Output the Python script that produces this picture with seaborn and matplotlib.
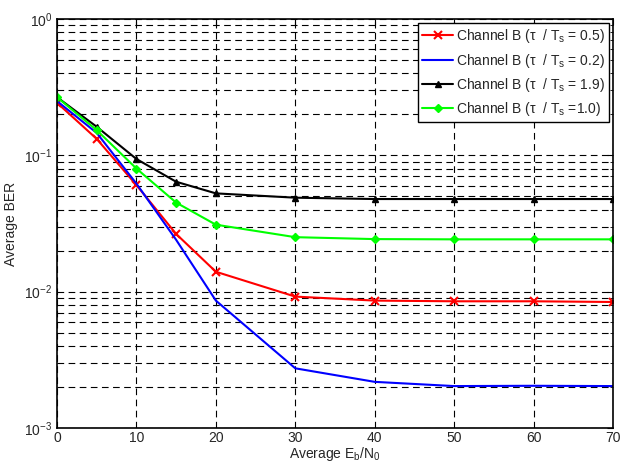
import numpy as np
import pandas as pd
import matplotlib
matplotlib.use("Agg")
import matplotlib.pyplot as plt
import seaborn as sns
from matplotlib.ticker import LogLocator, NullFormatter, MultipleLocator

# dados
snr = [0, 5, 10, 15, 20, 30, 40, 50, 60, 70]
ber_05 = [0.243, 0.132, 0.0605, 0.0265, 0.0140, 0.0092, 0.0086, 0.0085, 0.0085, 0.0084]
ber_02 = [0.250, 0.146, 0.062, 0.024, 0.0086, 0.00274, 0.00218, 0.00203, 0.00204, 0.00203]
ber_19 = [0.267, 0.162, 0.094, 0.064, 0.0526, 0.0489, 0.0478, 0.0478, 0.0478, 0.0478]
ber_10 = [0.267, 0.153, 0.080, 0.045, 0.031, 0.0251, 0.0243, 0.0242, 0.0242, 0.0242]

labels = [
    r"Channel B (τ  / T$_\mathregular{s}$ = 0.5)",
    r"Channel B (τ  / T$_\mathregular{s}$ = 0.2)",
    r"Channel B (τ  / T$_\mathregular{s}$ = 1.9)",
    r"Channel B (τ  / T$_\mathregular{s}$ =1.0)",
]

sns.set_style("white")
plt.rcParams["font.family"] = ["Liberation Sans", "DejaVu Sans"]
plt.rcParams["mathtext.fontset"] = "custom"
plt.rcParams["mathtext.rm"] = "Liberation Sans"
plt.rcParams["mathtext.it"] = "Liberation Sans"
plt.rcParams["xtick.direction"] = "in"
plt.rcParams["ytick.direction"] = "in"

fig = plt.figure(figsize=(6.21, 4.68), dpi=100)
ax = fig.add_axes([57 / 621, 40 / 468, 556 / 621, 409 / 468])

series = [
    (ber_05, "red", "x", 6, 1.5),
    (ber_02, "blue", None, 0, 1.5),
    (ber_19, "black", "^", 5, 1.5),
    (ber_10, "#00ff00", "D", 4, 1.5),
]
for (vals, cor, mk, ms, lw), lab in zip(series, labels):
    sns.lineplot(x=snr, y=vals, ax=ax, color=cor, marker=mk, markersize=ms,
                 markeredgewidth=1.5 if mk == "x" else 1.0, markeredgecolor=cor,
                 linewidth=lw, label=lab)

ax.set_yscale("log")
ax.set_xlim(0, 70)
ax.set_ylim(1e-3, 1)
ax.xaxis.set_major_locator(MultipleLocator(10))
ax.yaxis.set_major_locator(LogLocator(base=10))
ax.yaxis.set_minor_locator(LogLocator(base=10, subs=np.arange(2, 10)))
ax.yaxis.set_minor_formatter(NullFormatter())

ax.grid(True, which="major", axis="both", color="black", linestyle=(0, (6, 4)), linewidth=0.8)
ax.grid(True, which="minor", axis="y", color="black", linestyle=(0, (6, 4)), linewidth=0.8)
ax.set_axisbelow(True)

for s in ax.spines.values():
    s.set_color("black")
    s.set_linewidth(1.2)
ax.tick_params(which="both", top=True, right=True, labelsize=10, length=4, color="black")
ax.tick_params(which="minor", length=2)
ax.tick_params(axis="x", pad=2)

ax.set_xlabel(r"Average E$_\mathregular{b}$/N$_\mathregular{0}$", fontsize=10, labelpad=0)
ax.set_ylabel("Average BER", fontsize=10, labelpad=4)

leg = ax.legend(loc="upper right", fontsize=10, frameon=True, fancybox=False,
                edgecolor="black", framealpha=1, borderaxespad=0.3,
                handlelength=2.2, handletextpad=0.2, labelspacing=0.45,
                borderpad=0.3)
leg.get_frame().set_linewidth(1.0)

fig.savefig("out.png", dpi=100)
